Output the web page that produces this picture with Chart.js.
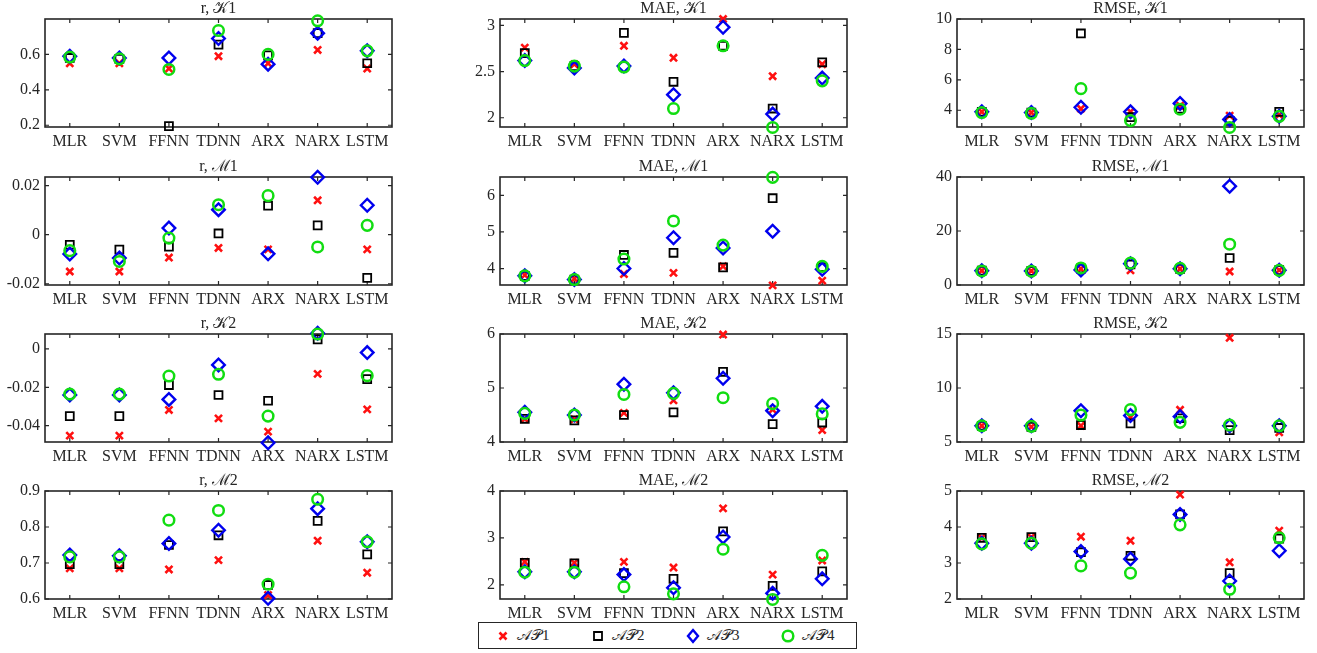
<!DOCTYPE html>
<html>
<head>
<meta charset="utf-8">
<script src="https://cdn.jsdelivr.net/npm/chart.js@4.4.0/dist/chart.umd.min.js"></script>
<style>
  body { margin: 0; background: #fff; width: 1317px; height: 653px; position: relative; overflow: hidden; font-family: "Liberation Serif", serif; }
  .panel { position: absolute; }
  #legend { position: absolute; left: 478px; top: 622px; width: 379px; height: 27px; border: 1.5px solid #262626; box-sizing: border-box; }
  .item { position: absolute; top: 0; height: 25px; line-height: 25px; font-size: 15px; color: #262626; }
  .item canvas { position: absolute; top: 5px; left: 0; }
  .item span { position: absolute; left: 22px; white-space: nowrap; }
</style>
</head>
<body>
<div id="legend"></div>
<script>
const categories = ["MLR", "SVM", "FFNN", "TDNN", "ARX", "NARX", "LSTM"];
const seriesNames = ["𝒜𝒫1", "𝒜𝒫2", "𝒜𝒫3", "𝒜𝒫4"];

// r, K1
const rK1_AP1 = [0.55, 0.55, 0.52, 0.59, 0.55, 0.625, 0.52];
const rK1_AP2 = [0.58, 0.575, 0.195, 0.655, 0.595, 0.72, 0.55];
const rK1_AP3 = [0.59, 0.58, 0.58, 0.69, 0.545, 0.72, 0.62];
const rK1_AP4 = [0.585, 0.575, 0.515, 0.735, 0.6, 0.79, 0.62];
const rK1_ticks = [0.2, 0.4, 0.6];

// MAE, K1
const maeK1_AP1 = [2.76, 2.58, 2.78, 2.65, 3.07, 2.45, 2.58];
const maeK1_AP2 = [2.70, 2.56, 2.92, 2.39, 2.78, 2.10, 2.60];
const maeK1_AP3 = [2.62, 2.54, 2.56, 2.25, 2.98, 2.04, 2.43];
const maeK1_AP4 = [2.62, 2.56, 2.55, 2.10, 2.78, 1.895, 2.40];
const maeK1_ticks = [2, 2.5, 3];

// RMSE, K1
const rmseK1_AP1 = [3.9, 3.85, 4.1, 3.9, 4.3, 3.65, 3.7];
const rmseK1_AP2 = [3.9, 3.85, 9.05, 3.55, 4.1, 3.3, 3.9];
const rmseK1_AP3 = [3.9, 3.85, 4.2, 3.9, 4.45, 3.4, 3.6];
const rmseK1_AP4 = [3.85, 3.8, 5.42, 3.32, 4.07, 2.87, 3.6];
const rmseK1_ticks = [4, 6, 8, 10];

// r, M1
const rM1_AP1 = [-0.015, -0.015, -0.0093, -0.0054, -0.006, 0.014, -0.006];
const rM1_AP2 = [-0.0041, -0.0061, -0.0049, 0.0005, 0.0118, 0.0038, -0.0176];
const rM1_AP3 = [-0.0079, -0.0095, 0.0027, 0.0102, -0.0078, 0.0234, 0.012];
const rM1_AP4 = [-0.0065, -0.0109, -0.0014, 0.0122, 0.0159, -0.005, 0.0038];
const rM1_ticks = [-0.02, 0, 0.02];

// MAE, M1
const maeM1_AP1 = [3.82, 3.72, 3.85, 3.88, 4.06, 3.54, 3.67];
const maeM1_AP2 = [3.8, 3.7, 4.37, 4.43, 4.03, 5.92, 4.04];
const maeM1_AP3 = [3.8, 3.7, 4.0, 4.84, 4.56, 5.02, 3.98];
const maeM1_AP4 = [3.8, 3.7, 4.26, 5.3, 4.64, 6.49, 4.06];
const maeM1_ticks = [4, 5, 6];

// RMSE, M1
const rmseM1_AP1 = [5.3, 5.2, 6.0, 5.4, 6.0, 5.0, 5.5];
const rmseM1_AP2 = [5.3, 5.2, 6.1, 7.6, 6.0, 10.0, 5.5];
const rmseM1_AP3 = [5.3, 5.2, 5.6, 7.9, 6.0, 36.6, 5.5];
const rmseM1_AP4 = [5.2, 5.1, 6.3, 8.1, 6.2, 15.1, 5.4];
const rmseM1_ticks = [0, 20, 40];

// r, K2
const rK2_AP1 = [-0.0452, -0.0452, -0.0318, -0.0362, -0.0431, -0.013, -0.0315];
const rK2_AP2 = [-0.035, -0.035, -0.0188, -0.024, -0.027, 0.005, -0.0157];
const rK2_AP3 = [-0.024, -0.024, -0.0263, -0.0083, -0.0489, 0.0082, -0.0019];
const rK2_AP4 = [-0.0235, -0.0235, -0.0141, -0.0132, -0.035, 0.0078, -0.0139];
const rK2_ticks = [-0.04, -0.02, 0];

// MAE, K2
const maeK2_AP1 = [4.43, 4.42, 4.54, 4.77, 5.99, 4.6, 4.22];
const maeK2_AP2 = [4.43, 4.4, 4.5, 4.55, 5.3, 4.33, 4.36];
const maeK2_AP3 = [4.55, 4.5, 5.07, 4.91, 5.18, 4.58, 4.66];
const maeK2_AP4 = [4.53, 4.5, 4.88, 4.9, 4.82, 4.71, 4.52];
const maeK2_ticks = [4, 5, 6];

// RMSE, K2
const rmseK2_AP1 = [6.5, 6.4, 6.5, 7.3, 7.98, 14.65, 5.9];
const rmseK2_AP2 = [6.5, 6.4, 6.57, 6.72, 7.2, 6.1, 6.3];
const rmseK2_AP3 = [6.5, 6.5, 7.9, 7.45, 7.35, 6.5, 6.5];
const rmseK2_AP4 = [6.5, 6.45, 7.5, 8.0, 6.82, 6.57, 6.5];
const rmseK2_ticks = [5, 10, 15];

// r, M2
const rM2_AP1 = [0.685, 0.685, 0.682, 0.708, 0.611, 0.762, 0.673];
const rM2_AP2 = [0.697, 0.697, 0.75, 0.777, 0.639, 0.817, 0.724];
const rM2_AP3 = [0.722, 0.72, 0.754, 0.791, 0.602, 0.851, 0.759];
const rM2_AP4 = [0.717, 0.717, 0.819, 0.846, 0.641, 0.877, 0.759];
const rM2_ticks = [0.6, 0.7, 0.8, 0.9];

// MAE, M2
const maeM2_AP1 = [2.49, 2.47, 2.49, 2.37, 3.63, 2.22, 2.52];
const maeM2_AP2 = [2.47, 2.46, 2.25, 2.13, 3.14, 1.98, 2.29];
const maeM2_AP3 = [2.28, 2.28, 2.22, 1.94, 3.02, 1.82, 2.13];
const maeM2_AP4 = [2.27, 2.27, 1.96, 1.81, 2.76, 1.69, 2.63];
const maeM2_ticks = [2, 3, 4];

// RMSE, M2
const rmseM2_AP1 = [3.7, 3.72, 3.73, 3.62, 4.9, 3.02, 3.9];
const rmseM2_AP2 = [3.7, 3.72, 3.3, 3.2, 4.35, 2.72, 3.68];
const rmseM2_AP3 = [3.55, 3.55, 3.32, 3.11, 4.35, 2.5, 3.34];
const rmseM2_AP4 = [3.53, 3.55, 2.92, 2.72, 4.06, 2.27, 3.7];
const rmseM2_ticks = [2, 3, 4, 5];

// layout of the 4x3 grid (pixels)
const COL_LEFT = [45, 500, 957];
const ROW_TOP = [19, 177, 334, 491];
const PLOT_W = 347, PLOT_H = 108;
const Y_W = 50, T_H = 22, X_H = 28, R_PAD = 10;
const TEXT = "#262626";
const FONT = "Liberation Serif";

const markers = [
  { color: "#ff1010", style: "crossRot", radius: 5, width: 2.6 },
  { color: "#000000", style: "rect", radius: 5.6, width: 1.8 },
  { color: "#0000ee", style: "rectRot", radius: 6.3, width: 2.4 },
  { color: "#11dd11", style: "circle", radius: 5.3, width: 2.5 },
];

const panels = [
  { row: 0, col: 0, title: "r, 𝒦1", series: [rK1_AP1, rK1_AP2, rK1_AP3, rK1_AP4], ticks: rK1_ticks, min: 0.19, max: 0.8 },
  { row: 0, col: 1, title: "MAE, 𝒦1", series: [maeK1_AP1, maeK1_AP2, maeK1_AP3, maeK1_AP4], ticks: maeK1_ticks, min: 1.9, max: 3.07 },
  { row: 0, col: 2, title: "RMSE, 𝒦1", series: [rmseK1_AP1, rmseK1_AP2, rmseK1_AP3, rmseK1_AP4], ticks: rmseK1_ticks, min: 2.9, max: 10 },
  { row: 1, col: 0, title: "r, ℳ1", series: [rM1_AP1, rM1_AP2, rM1_AP3, rM1_AP4], ticks: rM1_ticks, min: -0.0205, max: 0.0235 },
  { row: 1, col: 1, title: "MAE, ℳ1", series: [maeM1_AP1, maeM1_AP2, maeM1_AP3, maeM1_AP4], ticks: maeM1_ticks, min: 3.55, max: 6.5 },
  { row: 1, col: 2, title: "RMSE, ℳ1", series: [rmseM1_AP1, rmseM1_AP2, rmseM1_AP3, rmseM1_AP4], ticks: rmseM1_ticks, min: 0, max: 40 },
  { row: 2, col: 0, title: "r, 𝒦2", series: [rK2_AP1, rK2_AP2, rK2_AP3, rK2_AP4], ticks: rK2_ticks, min: -0.0485, max: 0.0078 },
  { row: 2, col: 1, title: "MAE, 𝒦2", series: [maeK2_AP1, maeK2_AP2, maeK2_AP3, maeK2_AP4], ticks: maeK2_ticks, min: 4, max: 6 },
  { row: 2, col: 2, title: "RMSE, 𝒦2", series: [rmseK2_AP1, rmseK2_AP2, rmseK2_AP3, rmseK2_AP4], ticks: rmseK2_ticks, min: 5, max: 15 },
  { row: 3, col: 0, title: "r, ℳ2", series: [rM2_AP1, rM2_AP2, rM2_AP3, rM2_AP4], ticks: rM2_ticks, min: 0.6, max: 0.9 },
  { row: 3, col: 1, title: "MAE, ℳ2", series: [maeM2_AP1, maeM2_AP2, maeM2_AP3, maeM2_AP4], ticks: maeM2_ticks, min: 1.7, max: 4 },
  { row: 3, col: 2, title: "RMSE, ℳ2", series: [rmseM2_AP1, rmseM2_AP2, rmseM2_AP3, rmseM2_AP4], ticks: rmseM2_ticks, min: 2, max: 5 },
];

// box with inward ticks on all four sides, plus the panel title (MATLAB look)
const boxPlugin = {
  id: "box",
  beforeDatasetsDraw(chart) {
    const { ctx, chartArea: a, scales: { x, y } } = chart;
    ctx.save();
    ctx.strokeStyle = TEXT;
    ctx.lineWidth = 1.2;
    ctx.beginPath();
    x.ticks.forEach((t, i) => {
      const px = x.getPixelForTick(i);
      ctx.moveTo(px, a.bottom); ctx.lineTo(px, a.bottom - 4);
      ctx.moveTo(px, a.top); ctx.lineTo(px, a.top + 4);
    });
    y.ticks.forEach((t) => {
      const py = y.getPixelForValue(t.value);
      ctx.moveTo(a.left, py); ctx.lineTo(a.left + 4, py);
      ctx.moveTo(a.right, py); ctx.lineTo(a.right - 4, py);
    });
    ctx.stroke();
    ctx.lineWidth = 1.6;
    ctx.strokeRect(a.left, a.top, a.right - a.left, a.bottom - a.top);
    ctx.restore();
  },
  afterDraw(chart, args, opts) {
    const { ctx, chartArea: a } = chart;
    ctx.save();
    ctx.fillStyle = TEXT;
    ctx.font = "16px '" + FONT + "'";
    ctx.textAlign = "center";
    ctx.textBaseline = "middle";
    ctx.fillText(opts.title, (a.left + a.right) / 2, a.top - 10);
    ctx.restore();
  },
};

panels.forEach((p) => {
  const div = document.createElement("div");
  div.className = "panel";
  div.style.left = (COL_LEFT[p.col] - Y_W) + "px";
  div.style.top = (ROW_TOP[p.row] - T_H) + "px";
  const canvas = document.createElement("canvas");
  canvas.width = Y_W + PLOT_W + R_PAD;
  canvas.height = T_H + PLOT_H + X_H;
  div.appendChild(canvas);
  document.body.appendChild(div);

  new Chart(canvas, {
    type: "line",
    data: {
      labels: categories,
      datasets: p.series.map((vals, i) => ({
        label: seriesNames[i],
        data: vals,
        showLine: false,
        clip: false,
        order: 4 - i,
        pointStyle: markers[i].style,
        pointRadius: markers[i].radius,
        pointBorderWidth: markers[i].width,
        pointBorderColor: markers[i].color,
        pointBackgroundColor: "rgba(0,0,0,0)",
      })),
    },
    options: {
      responsive: false,
      animation: false,
      devicePixelRatio: 1,
      layout: { padding: { top: T_H, left: 0, right: R_PAD, bottom: 0 } },
      plugins: {
        legend: { display: false },
        tooltip: { enabled: false },
        box: { title: p.title },
      },
      scales: {
        x: {
          type: "category",
          offset: true,
          grid: { display: false, drawTicks: false },
          border: { display: false },
          ticks: { color: TEXT, font: { family: FONT, size: 16 }, padding: 5, maxRotation: 0, autoSkip: false },
          afterFit: (s) => { s.height = X_H; },
        },
        y: {
          min: p.min,
          max: p.max,
          grid: { display: false, drawTicks: false },
          border: { display: false },
          ticks: { color: TEXT, font: { family: FONT, size: 16 }, padding: 5, callback: (v) => String(v) },
          afterBuildTicks: (s) => { s.ticks = p.ticks.map((v) => ({ value: v })); },
          afterFit: (s) => { s.width = Y_W; },
        },
      },
    },
    plugins: [boxPlugin],
  });
});

// legend
const legend = document.getElementById("legend");
seriesNames.forEach((name, i) => {
  const item = document.createElement("div");
  item.className = "item";
  item.style.left = (16 + 95 * i) + "px";
  const c = document.createElement("canvas");
  c.width = 16; c.height = 16;
  const g = c.getContext("2d");
  const m = markers[i];
  g.strokeStyle = m.color;
  g.lineWidth = m.width;
  g.beginPath();
  if (m.style === "crossRot") {
    g.moveTo(4.5, 4.5); g.lineTo(11.5, 11.5); g.moveTo(11.5, 4.5); g.lineTo(4.5, 11.5);
  } else if (m.style === "rect") {
    g.rect(4, 4, 8, 8);
  } else if (m.style === "rectRot") {
    g.moveTo(8, 2); g.lineTo(13, 8); g.lineTo(8, 14); g.lineTo(3, 8); g.closePath();
  } else {
    g.arc(8, 8, 5.3, 0, Math.PI * 2);
  }
  g.stroke();
  item.appendChild(c);
  const s = document.createElement("span");
  s.textContent = name;
  item.appendChild(s);
  legend.appendChild(item);
});
</script>
</body>
</html>
